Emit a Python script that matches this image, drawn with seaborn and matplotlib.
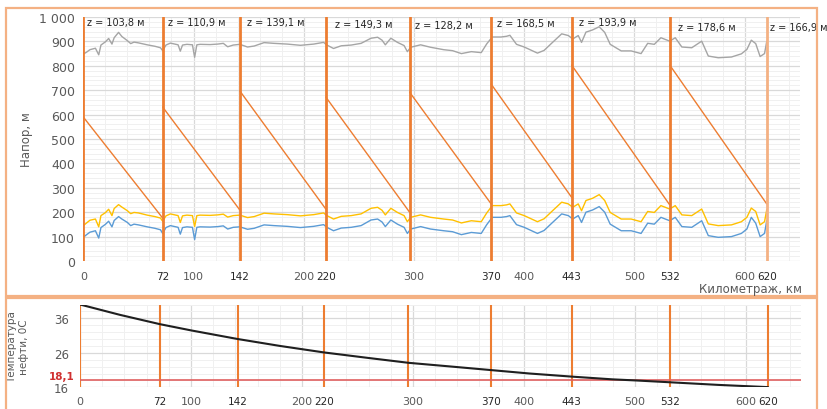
import numpy as np
import pandas as pd
import matplotlib
matplotlib.use("Agg")
import matplotlib.pyplot as plt
import matplotlib.transforms as mtrans
from matplotlib.ticker import MultipleLocator, FixedLocator
from matplotlib.patches import Rectangle
import seaborn as sns

# ---------------- data ----------------
km = [0, 3, 6, 11, 14, 16, 20, 23, 26, 28,
      32, 35, 40, 43, 46, 50, 58, 65, 70, 72,
      75, 79, 86, 88, 90, 94, 99, 101, 103, 106,
      115, 122, 127, 131, 136, 142, 149, 155, 164, 173,
      185, 197, 209, 218, 221, 227, 234, 243, 252, 261,
      267, 271, 274, 279, 285, 291, 294, 297, 306, 315,
      327, 335, 343, 352, 361, 366, 371, 379, 384, 387,
      393, 400, 412, 418, 425, 434, 440, 444, 449, 452,
      456, 462, 468, 473, 478, 488, 497, 506, 512, 518,
      524, 532, 537, 543, 552, 561, 567, 576, 588, 597,
      602, 606, 610, 614, 618, 620]

profile_blue = [97, 108, 118, 124, 94, 137, 150, 163, 140, 166,
                182, 172, 158, 145, 151, 148, 140, 134, 128, 113,
                137, 145, 138, 110, 137, 140, 138, 88, 138, 140,
                139, 141, 144, 131, 138, 140, 130, 134, 148, 145,
                142, 137, 142, 149, 138, 124, 135, 138, 145, 168,
                172, 160, 141, 168, 151, 138, 113, 131, 141, 131,
                124, 120, 108, 117, 113, 149, 179, 179, 182, 186,
                149, 138, 113, 125, 155, 193, 186, 172, 186, 158,
                200, 209, 223, 200, 151, 124, 124, 113, 155, 151,
                179, 165, 179, 141, 138, 165, 104, 97, 100, 113,
                131, 179, 155, 100, 113, 165]

profile_yellow = [145, 156, 167, 172, 140, 186, 198, 212, 186, 215,
                  231, 221, 206, 194, 199, 197, 188, 182, 176, 163,
                  185, 193, 186, 158, 185, 188, 186, 141, 186, 188,
                  187, 189, 192, 180, 186, 188, 178, 182, 196, 193,
                  190, 185, 190, 197, 186, 172, 183, 186, 193, 216,
                  220, 208, 189, 216, 199, 186, 161, 179, 189, 179,
                  172, 168, 156, 165, 161, 197, 227, 227, 230, 234,
                  197, 186, 161, 173, 203, 241, 234, 220, 234, 206,
                  248, 257, 272, 248, 199, 172, 172, 161, 203, 199,
                  227, 213, 227, 189, 186, 213, 152, 145, 148, 161,
                  179, 217, 203, 148, 161, 210]

profile_gray = [848, 856, 866, 872, 845, 885, 898, 912, 889, 915,
                937, 920, 903, 891, 897, 894, 886, 880, 874, 862,
                885, 893, 886, 860, 885, 888, 886, 835, 886, 888,
                887, 889, 892, 878, 885, 888, 877, 881, 895, 892,
                889, 884, 889, 896, 885, 871, 882, 885, 892, 913,
                917, 905, 886, 913, 896, 883, 858, 876, 886, 876,
                866, 862, 850, 858, 854, 890, 918, 918, 921, 925,
                888, 877, 852, 863, 893, 931, 924, 910, 924, 896,
                938, 947, 960, 937, 888, 861, 861, 850, 892, 888,
                915, 901, 915, 877, 874, 901, 840, 833, 836, 849,
                867, 905, 891, 838, 850, 900]

station_km = [0, 72, 142, 220, 296, 370, 443, 532, 620]
station_z = ["103,8", "110,9", "139,1", "149,3", "128,2", "168,5", "193,9", "178,6", "166,9"]
head_start = [590, 631, 697, 672, 692, 725, 803, 803]
head_end = [176, 209, 213, 200, 234, 261, 230, 234]

temp_km = [0, 36, 72, 100, 142, 180, 220, 260, 296, 335, 370, 405, 443, 480, 500, 532, 575, 620]
temp_c = [40.0, 37.0, 34.3, 32.5, 30.0, 28.0, 26.1, 24.5, 23.1, 22.0, 21.0, 20.0, 19.1, 18.3, 18.0, 17.45, 16.7, 16.05]
temp_limit = 18.1

x_major_ticks = [0, 100, 200, 300, 400, 500, 600]
x_station_labels = ["72", "142", "220", "370", "443", "532", "620"]
x_station_label_pos = [72, 142, 220, 370, 443, 532, 620]

# ---------------- style ----------------
sns.set_style("white")
plt.rcParams['font.family'] = ['DejaVu Sans']

ORANGE = '#ED7D31'
ORANGE_LIGHT = '#F4B183'
BLUE = '#5B9BD5'
YELLOW = '#FFC000'
GRAY = '#A5A5A5'
TXT = '#595959'
DARK = '#262626'

W, H = 828, 410
fig = plt.figure(figsize=(W / 100, H / 100), dpi=100)

def px_axes(x0, y0, x1, y1):
    return fig.add_axes([x0 / W, 1 - y1 / H, (x1 - x0) / W, (y1 - y0) / H])

# outer frames
fig.patches.append(Rectangle((6 / W, 1 - 297 / H), 811 / W, 288 / H, transform=fig.transFigure,
                             fill=False, edgecolor=ORANGE_LIGHT, lw=1.6, zorder=0))
fig.patches.append(Rectangle((6 / W, 1 - 412 / H), 811 / W, 113 / H, transform=fig.transFigure,
                             fill=False, edgecolor=ORANGE_LIGHT, lw=1.6, zorder=0))

# ---------------- top panel ----------------
ax = px_axes(83.3, 18, 799.8, 262)
df = pd.DataFrame({
    'km': km * 3,
    'H': profile_blue + profile_yellow + profile_gray,
    'series': ['blue'] * len(km) + ['yellow'] * len(km) + ['gray'] * len(km),
})
sns.lineplot(data=df, x='km', y='H', hue='series',
             palette={'blue': BLUE, 'yellow': YELLOW, 'gray': GRAY},
             estimator=None, sort=False, legend=False, linewidth=1.0, ax=ax)

seg_rows = []
for i in range(len(head_start)):
    seg_rows.append((i, station_km[i], head_start[i]))
    seg_rows.append((i, station_km[i + 1], head_end[i]))
seg = pd.DataFrame(seg_rows, columns=['seg', 'km', 'H'])
sns.lineplot(data=seg, x='km', y='H', units='seg', estimator=None, color=ORANGE,
             linewidth=1.0, ax=ax, legend=False)

for s in station_km:
    ax.axvline(s, color=ORANGE_LIGHT if s == 620 else ORANGE, lw=2, zorder=3)

ax.set_xlim(0, 650)
ax.set_ylim(0, 1000)
ax.xaxis.set_major_locator(FixedLocator(x_major_ticks))
ax.xaxis.set_minor_locator(MultipleLocator(20))
ax.yaxis.set_major_locator(MultipleLocator(100))
ax.yaxis.set_minor_locator(MultipleLocator(20))
ax.grid(which='major', color='#D9D9D9', lw=0.9)
ax.grid(which='minor', color='#F0F0F0', lw=0.7)
ax.set_axisbelow(True)
for sp in ax.spines.values():
    sp.set_visible(False)
ax.set_yticks(range(0, 1001, 100))
ax.set_yticklabels([f"{v}" if v < 1000 else "1 000" for v in range(0, 1001, 100)])
ax.tick_params(axis='y', which='major', colors=ORANGE, labelcolor=TXT, labelsize=9,
               direction='inout', length=6, width=1, pad=3)
ax.tick_params(axis='y', which='minor', colors=ORANGE, direction='inout', length=5, width=1)
ax.tick_params(axis='x', which='major', colors='#BFBFBF', labelcolor=TXT, labelsize=8,
               length=0, pad=7)
ax.tick_params(axis='x', which='minor', colors='#BFBFBF', length=3, width=0.8)
ax.set_xlabel('')
ax.set_ylabel('Напор, м', color=TXT, fontsize=8.5)
ax.yaxis.set_label_coords(-0.070, 0.50)

tr_top = mtrans.blended_transform_factory(ax.transData, ax.transAxes)
for p, l in zip(x_station_label_pos, x_station_labels):
    ax.text(p, -0.063, l, transform=tr_top, ha='center', va='center', fontsize=7.5, color=DARK)

z_dx_px = [4, 5, 7, 9, 5, 6, 7, 8, 3]
z_y = [981, 981, 980, 971, 968, 975, 978, 960, 960]
for s, z, dx, yy in zip(station_km, station_z, z_dx_px, z_y):
    ax.text(s + dx / 1.102, yy, f"z = {z} м", fontsize=7, color=DARK, ha='left', va='center',
            clip_on=False, zorder=5)

fig.text(802 / W, 1 - 290 / H, 'Километраж, км', ha='right', va='center', fontsize=8.5, color=TXT)

# ---------------- bottom panel ----------------
bx = px_axes(80, 305.5, 801.3, 388.3)
dft = pd.DataFrame({'km': temp_km, 'T': temp_c})
sns.lineplot(data=dft, x='km', y='T', color='#1F1F1F', linewidth=1.5, ax=bx, zorder=4)
bx.axhline(temp_limit, color='#E06060', lw=1.2, zorder=3)
for s in station_km:
    bx.axvline(s, color=ORANGE, lw=1.5, zorder=2)

bx.set_xlim(0, 650)
bx.set_ylim(16, 40)
bx.xaxis.set_major_locator(FixedLocator(x_major_ticks))
bx.xaxis.set_minor_locator(MultipleLocator(20))
bx.set_yticks([16, 26, 36])
bx.yaxis.set_minor_locator(MultipleLocator(2))
bx.grid(which='major', color='#D9D9D9', lw=0.9)
bx.grid(which='minor', color='#F0F0F0', lw=0.7)
bx.set_axisbelow(True)
for sp in bx.spines.values():
    sp.set_visible(False)
bx.tick_params(axis='both', which='both', length=0)
bx.tick_params(axis='x', labelcolor=TXT, labelsize=8, pad=6.5)
bx.tick_params(axis='y', labelcolor=TXT, labelsize=8.5, pad=8)
bx.set_xlabel('')
bx.set_ylabel('Температура\nнефти, 0С', color=TXT, fontsize=7.5, linespacing=1.25)
bx.yaxis.set_label_coords(-0.071, 0.50)

tr_bot = mtrans.blended_transform_factory(bx.transData, bx.transAxes)
for p, l in zip(x_station_label_pos, x_station_labels):
    bx.text(p, -0.165, l, transform=tr_bot, ha='center', va='center', fontsize=7.5, color=DARK)

bx.text(-0.007, temp_limit + 1.3, '18,1', transform=mtrans.blended_transform_factory(bx.transAxes, bx.transData),
        ha='right', va='center', fontsize=7.5, color='#D03030', fontweight='bold')

fig.savefig('out.png', dpi=100)
